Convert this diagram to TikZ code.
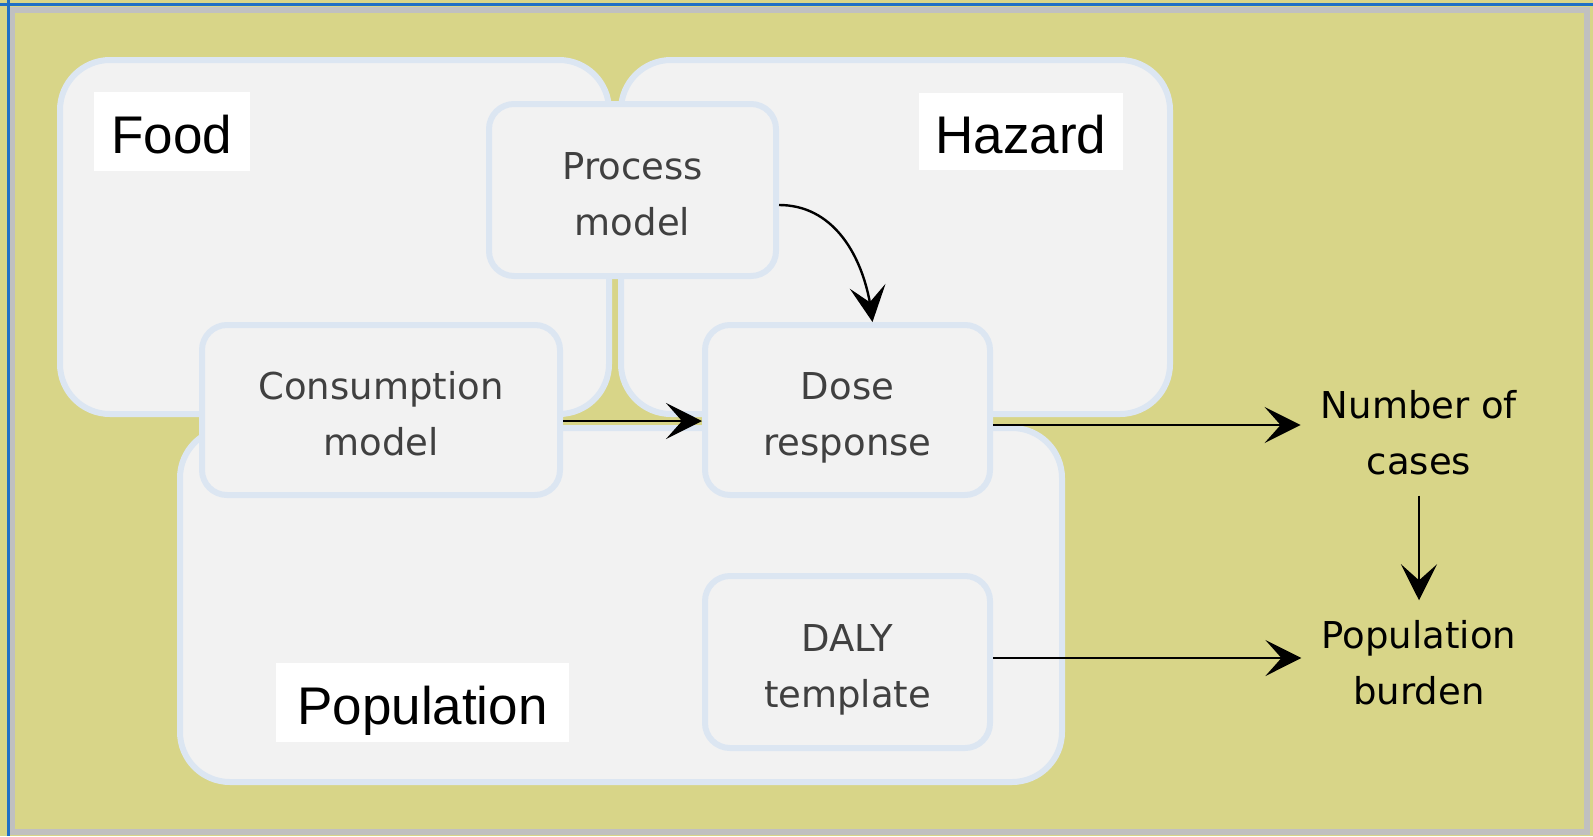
\documentclass[tikz,border=0pt]{standalone}
\usepackage{fontspec}
\setmainfont{DejaVu Sans}
\newfontfamily\labelfont{Liberation Sans}
\usetikzlibrary{arrows.meta,bending}

\definecolor{olivebg}{HTML}{D8D588}
\definecolor{panelfill}{HTML}{F2F2F2}
\definecolor{panelrim}{HTML}{DCE6F2}
\definecolor{framegrey}{HTML}{C0C0C0}
\definecolor{frameblue}{HTML}{1F6FC5}
\definecolor{boxtext}{HTML}{404040}

% fixed top/bottom struts so every two-line caption sits the same way
\newcommand\topstrut{\rule{0pt}{21.5pt}}
\newcommand\botstrut{\rule[-4.5pt]{0pt}{4.5pt}}

\tikzset{
  panel/.style={draw=panelrim, fill=panelfill, line width=3pt,
    rounded corners=25pt, inner sep=0pt},
  modelbox/.style={draw=panelrim, fill=panelfill, line width=3pt,
    rounded corners=12.5pt, inner sep=0pt, align=center, text=boxtext,
    font=\fontsize{18.5pt}{28pt}\selectfont},
  tag/.style={fill=white, inner sep=0pt, text height=21.5pt, text depth=0pt,
    font=\labelfont\fontsize{26.5pt}{30pt}\selectfont},
  outcome/.style={align=center, inner sep=10pt, text=black,
    font=\fontsize{18.5pt}{28pt}\selectfont},
  flow/.style={draw=black, line width=1.2pt,
    -{Stealth[length=18pt, width=18pt, inset=8pt]}}
}

\begin{document}
\begin{tikzpicture}[x=0.5pt, y=-0.5pt]
  % background and frame
  \fill[olivebg] (0,0) rectangle (1593,836);
  \useasboundingbox (0,0) rectangle (1593,836);
  \draw[framegrey, line width=3pt] (12,10) rectangle (1587,831.5);
  \draw[frameblue, line width=1.5pt] (0,4) -- (1593,4);
  \draw[frameblue, line width=1.5pt] (8,0) -- (8,836);

  % large domain panels
  \node[panel, minimum width=274.5pt, minimum height=177pt] (food) at (334.5,237) {};
  \node[panel, minimum width=274.5pt, minimum height=177pt] (hazard) at (895.5,237) {};
  \node[panel, minimum width=441pt, minimum height=177pt] (population) at (621,605) {};

  % panel titles
  \node[tag, minimum width=78pt, minimum height=39.5pt] (foodtag) at (172,131.5) {Food};
  \node[tag, minimum width=102pt, minimum height=38.5pt] (hazardtag) at (1021,131.5) {Hazard};
  \node[tag, minimum width=146.5pt, minimum height=39.5pt] (poptag) at (422.5,702.5) {Population};

  % model components
  \node[modelbox, minimum width=143.5pt, minimum height=86pt] (process) at (632.5,190)
    {\topstrut Process\\model\botstrut};
  \node[modelbox, minimum width=179pt, minimum height=85pt] (consumption) at (381,410)
    {\topstrut Consumption\\model\botstrut};
  \node[modelbox, minimum width=142.5pt, minimum height=85pt] (dose) at (847.5,410)
    {\topstrut Dose\\response\botstrut};
  \node[modelbox, minimum width=142.5pt, minimum height=86pt] (daly) at (847.5,662)
    {\topstrut DALY\\template\botstrut};

  % outcomes
  \node[outcome] (cases) at (1419,433) {Number of\\cases};
  \node[outcome] (burden) at (1419,663) {Population\\burden};
  \coordinate (casesin) at ([yshift=4pt]cases.west);
  \coordinate (burdenin) at ([yshift=2.5pt]burden.west);

  % connectors
  \draw[flow] ([yshift=-7.5pt]process.east) to[out=0, in=95] ([xshift=12.5pt]dose.north);
  \draw[flow] ([yshift=-5.5pt]consumption.east) -- ([yshift=-5.5pt]dose.west);
  \draw[flow] (dose.east |- casesin) -- (casesin);
  \draw[flow] (daly.east |- burdenin) -- (burdenin);
  \draw[flow] (cases.south) -- (cases.south |- burden.north);
\end{tikzpicture}
\end{document}
